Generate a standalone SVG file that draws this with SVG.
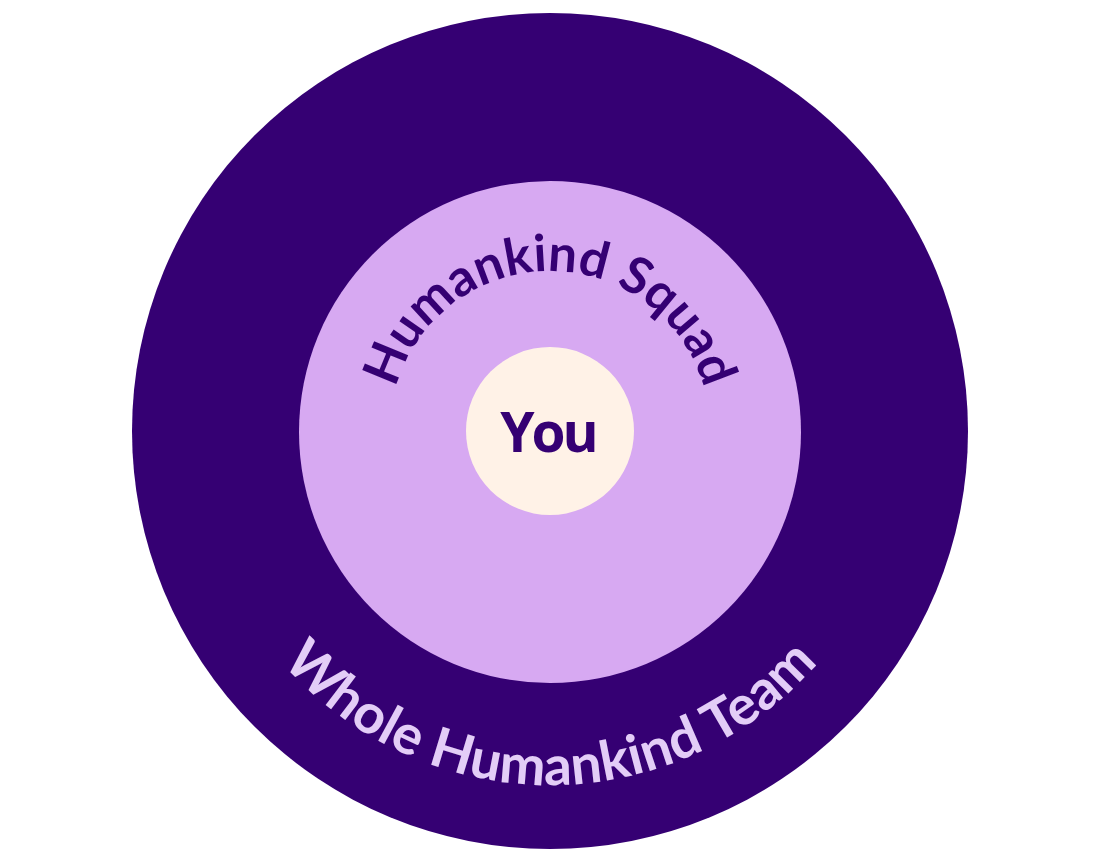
<svg xmlns="http://www.w3.org/2000/svg" xmlns:xlink="http://www.w3.org/1999/xlink" width="1100" height="861" viewBox="0 0 1100 861">
  <style>
    .arc { font-family: Lato, "Open Sans", sans-serif; font-weight: 700; }
    .top { fill: #350073; font-size: 51px; letter-spacing: 0px; }
    .bot { fill: #E3CDF7; font-size: 55px; letter-spacing: 0.3px; }
    .you { font-family: "Open Sans", "Noto Sans", sans-serif; font-weight: 700; font-size: 55px; fill: #350073; letter-spacing: -3px; }
  </style>
  <defs>
    <path id="topArc" d="M 390 431 A 160 160 0 0 1 710 431" fill="none"/>
    <path id="botArc" d="M 196 431 A 354 354 0 0 0 904 431" fill="none"/>
  </defs>
  <rect width="1100" height="861" fill="#ffffff"/>
  <g id="team">
    <circle cx="550" cy="431" r="418" fill="#350073"/>
    <text class="arc bot"><textPath xlink:href="#botArc" startOffset="50%" text-anchor="middle">Whole Humankind Team</textPath></text>
  </g>
  <g id="squad">
    <circle cx="550" cy="432" r="251" fill="#D7A9F2"/>
    <text class="arc top"><textPath xlink:href="#topArc" startOffset="50%" text-anchor="middle">Humankind Squad</textPath></text>
  </g>
  <g id="you">
    <circle cx="550" cy="431" r="84" fill="#FFF2E7"/>
    <text class="you" x="548" y="452" text-anchor="middle">You</text>
  </g>
  <g id="connectors"/>
</svg>
